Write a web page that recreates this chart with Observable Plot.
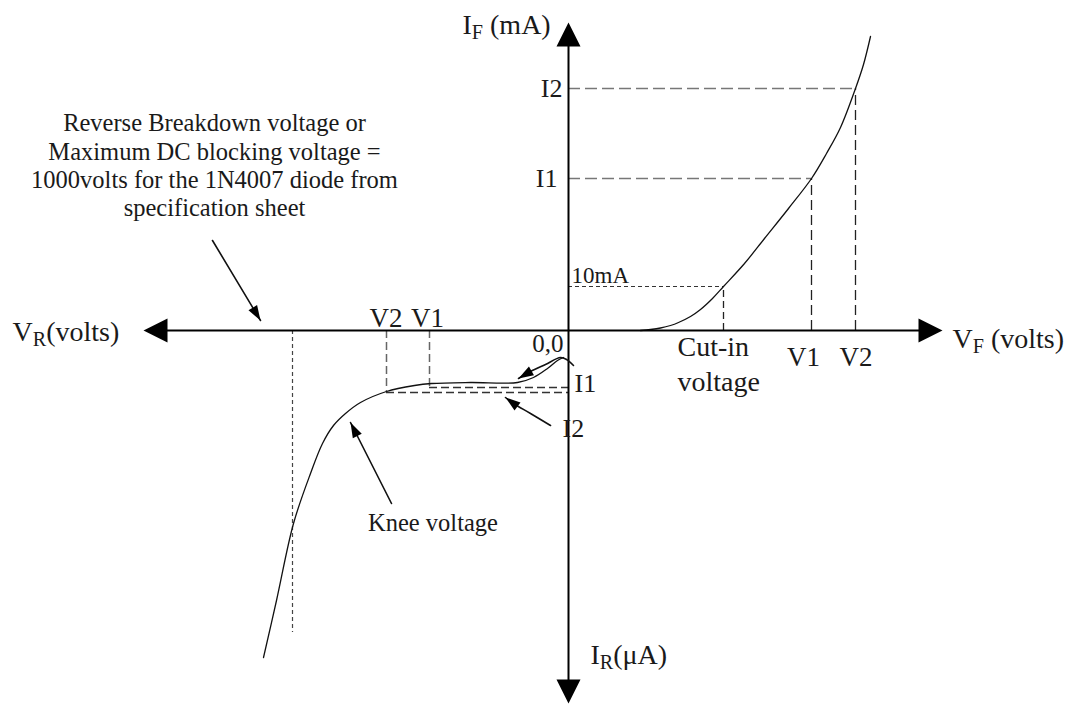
<!DOCTYPE html>
<html><head><meta charset="utf-8">
<script src="https://cdn.jsdelivr.net/npm/d3@7"></script>
<script src="https://cdn.jsdelivr.net/npm/@observablehq/plot@0.6"></script>
<style>body{margin:0;background:#fff;} #chart svg{display:block;}</style>
</head><body><div id="chart"></div>
<script>
// Chart units: arbitrary diagram units (V across, I up), origin where the axes cross.
// Forward characteristic (V_F, I_F)
const forwardV = [7.2, 8.2, 9.2, 10.2, 11.0, 12.2, 13.2, 14.4, 15.5, 17.6, 19.6, 22.0, 24.3, 25.8, 27.2, 28.7, 29.5, 30.2];
const forwardI = [0, 0.1, 0.25, 0.5, 0.8, 1.4, 2.1, 3.2, 4.4, 6.7, 9.2, 12.2, 15.2, 17.7, 20.3, 24.2, 26.6, 29.4];
// Reverse characteristic (V_R, I_R), drawn in the third quadrant
const reverseV = [-30.5, -29.2, -27.5, -25.8, -24.6, -23.5, -22.3, -20.8, -18.2, -15.4, -13.7, -9.8, -5.1, -3.5, -2.1, -1.1, -0.5];
const reverseI = [-32.7, -27.0, -19.3, -14.3, -11.3, -9.5, -8.3, -7.2, -6.1, -5.5, -5.3, -5.2, -5.2, -4.7, -3.8, -3.0, -2.7];

// Marked forward operating points
const fwdNames = ["10mA", "1", "2"];
const fwdV = [15.5, 24.3, 28.7];
const fwdI = [4.4, 15.2, 24.2];
// Marked reverse points (V2, V1) and their currents (I2, I1)
const revNames = ["V2", "V1"];
const revV = [-18.2, -13.9];
const revI = [-6.2, -5.7];
// Breakdown voltage marker
const breakdownV = [-27.6];
const breakdownDepth = [-30.2];

// Axis extents
const axisX = [-42.5, 37.4];
const axisY = [-37.3, 30.8];

// Annotation arrows (tail ... head)
const arrowBreakdownX = [-35.6, -30.8], arrowBreakdownY = [9.0, 1.0];
const arrowKneeX = [-17.7, -21.8], arrowKneeY = [-17.3, -9.2];
const arrowI1X = [0.5, -0.2, -0.8, -2.3, -3.8, -5.0], arrowI1Y = [-3.5, -2.9, -2.7, -3.4, -4.1, -4.8];
const arrowI2X = [-1.8, -3.8, -5.5, -6.3], arrowI2Y = [-9.5, -8.3, -7.3, -6.7];

// Axis titles (left-aligned)
const titleText = ["I_F (mA)", "V_F (volts)", "V_R(volts)", "I_R(\u03bcA)"];
const titleX = [-10.6, 38.4, -55.6, 2.2];
const titleY = [30.5, -0.9, -0.2, -32.5];
// Left-aligned labels
const leftText = ["I1", "I2"];
const leftX = [0.6, -0.6];
const leftY = [-5.3, -9.8];
const cutInText = ["Cut-in", "voltage"];
const cutInX = [10.9, 10.9];
const cutInY = [-1.7, -5.2];
const mAText = ["10mA"], mAX = [0.3], mAY = [5.5];
// Right-aligned labels
const rightText = ["I1", "I2", "0,0"];
const rightX = [-1.1, -0.6, -0.5];
const rightY = [15.2, 24.2, -1.3];
// Centred voltage tick labels
const tickText = ["V1", "V2", "V2", "V1"];
const tickX = [23.5, 28.75, -18.25, -14.1];
const tickY = [-2.7, -2.7, 1.2, 1.2];

const noteLines = ["Reverse Breakdown voltage or", "Maximum DC blocking voltage =", "1000volts for the 1N4007 diode from", "specification sheet"];
const noteX = [-35.4, -35.4, -35.4, -35.4];
const noteY = [20.7, 17.8, 15.0, 12.2];
const kneeText = ["Knee voltage"], kneeX = [-13.55], kneeY = [-19.3];

// ---- build tables ----
const zip = (xs, ys) => xs.map((x, i) => ({x, y: ys[i]}));
const tbl = (ts, xs, ys) => ts.map((t, i) => ({t, x: xs[i], y: ys[i]}));
const fwdCurve = zip(forwardV, forwardI);
const revCurve = zip(reverseV, reverseI);
const fwdPts = fwdNames.map((n, i) => ({n, v: fwdV[i], i: fwdI[i]}));
const revPts = revNames.map((n, k) => ({n, v: revV[k], i: revI[k]}));

const arrows = [
  zip(arrowBreakdownX, arrowBreakdownY),
  zip(arrowKneeX, arrowKneeY),
  zip(arrowI1X, arrowI1Y),
  zip(arrowI2X, arrowI2Y)
];
const heading = (a, b) => Math.atan2(b.x - a.x, b.y - a.y) * 180 / Math.PI;
const heads = arrows.map(pts => {
  const b = pts[pts.length - 1], a = pts[pts.length - 2];
  return {x: b.x, y: b.y, r: heading(a, b)};
});
const axisHeads = [
  {x: axisX[0], y: 0, r: -90},
  {x: axisX[1], y: 0, r: 90},
  {x: 0, y: axisY[1], r: 0},
  {x: 0, y: axisY[0], r: 180}
];

const bigHead = {draw(ctx) { ctx.moveTo(0, 0); ctx.lineTo(12, 24); ctx.lineTo(-12, 24); ctx.closePath(); }};
const smallHead = {draw(ctx) { ctx.moveTo(0, 0); ctx.lineTo(5, 15); ctx.lineTo(-5, 15); ctx.closePath(); }};
const ink = "#1a1a1a";
const txt = (data, anchor, size) => Plot.text(data, {x: "x", y: "y", text: "t", textAnchor: anchor, lineAnchor: "middle", fill: ink, fontSize: size});

const chart = Plot.plot({
  width: 1076, height: 704, margin: 0,
  x: {domain: [-56.8, 50.8], axis: null},
  y: {domain: [-37.4, 33.0], axis: null},
  style: {fontFamily: "'Liberation Serif', 'Times New Roman', serif", fontSize: "24px", background: "#fff", color: ink},
  marks: [
    // forward guides
    Plot.ruleY(fwdPts.slice(0, 1), {y: "i", x1: 0, x2: "v", stroke: "#333", strokeWidth: 1.2, strokeDasharray: "4,3"}),
    Plot.ruleX(fwdPts.slice(0, 1), {x: "v", y1: 0, y2: "i", stroke: "#222", strokeWidth: 1.3, strokeDasharray: "7,4"}),
    Plot.ruleY(fwdPts.slice(1), {y: "i", x1: 0, x2: "v", stroke: "#777", strokeWidth: 1.6, strokeDasharray: "12,5"}),
    Plot.ruleX(fwdPts.slice(1), {x: "v", y1: 0, y2: "i", stroke: "#222", strokeWidth: 1.3, strokeDasharray: "10,5"}),
    // reverse guides
    Plot.ruleX(breakdownV, {x: d => d, y1: 0, y2: breakdownDepth[0], stroke: "#444", strokeWidth: 1.2, strokeDasharray: "4,3"}),
    Plot.ruleX(revPts, {x: "v", y1: 0, y2: "i", stroke: "#666", strokeWidth: 1.5, strokeDasharray: "8,4"}),
    Plot.ruleY(revPts, {y: "i", x1: "v", x2: 0, stroke: "#333", strokeWidth: 1.3, strokeDasharray: "8,4"}),
    // characteristic curves
    Plot.line(fwdCurve, {x: "x", y: "y", curve: "catmull-rom", stroke: "#111", strokeWidth: 1.3}),
    Plot.line(revCurve, {x: "x", y: "y", curve: "catmull-rom", stroke: "#111", strokeWidth: 1.3}),
    // axes
    Plot.ruleY([0], {x1: axisX[0] + 2, x2: axisX[1] - 2, stroke: "#000", strokeWidth: 2}),
    Plot.ruleX([0], {y1: axisY[0] + 2, y2: axisY[1] - 2, stroke: "#000", strokeWidth: 2}),
    Plot.dot(axisHeads, {x: "x", y: "y", rotate: "r", symbol: bigHead, fill: "#000", stroke: null}),
    // annotation arrows
    ...arrows.map(pts => Plot.line(pts, {x: "x", y: "y", curve: "catmull-rom", stroke: "#111", strokeWidth: 1.6})),
    Plot.dot(heads, {x: "x", y: "y", rotate: "r", symbol: smallHead, fill: "#000", stroke: null}),
    // text
    txt(tbl(titleText, titleX, titleY), "start", 28),
    txt(tbl(leftText, leftX, leftY), "start", 26),
    txt(tbl(cutInText, cutInX, cutInY), "start", 28),
    txt(tbl(mAText, mAX, mAY), "start", 23),
    txt(tbl(rightText.slice(0, 2), rightX, rightY), "end", 26),
    txt(tbl(rightText.slice(2), rightX.slice(2), rightY.slice(2)), "end", 25),
    txt(tbl(tickText, tickX, tickY), "middle", 27),
    txt(tbl(noteLines, noteX, noteY), "middle", 24.5),
    txt(tbl(kneeText, kneeX, kneeY), "middle", 24.5)
  ]
});

// subscripts: "X_Y rest" -> X, subscript Y, rest
const ns = "http://www.w3.org/2000/svg";
chart.querySelectorAll("text").forEach(t => {
  const s = t.textContent;
  const m = s.match(/^(.*?)_(\w)(.*)$/);
  if (!m) return;
  t.textContent = "";
  const a = document.createElementNS(ns, "tspan"); a.textContent = m[1];
  const b = document.createElementNS(ns, "tspan"); b.textContent = m[2];
  b.setAttribute("style", "font-size:0.72em"); b.setAttribute("dy", "0.2em");
  const c = document.createElementNS(ns, "tspan"); c.textContent = m[3]; c.setAttribute("dy", "-0.15em");
  t.append(a, b, c);
});
document.getElementById("chart").append(chart);
</script>
</body></html>
